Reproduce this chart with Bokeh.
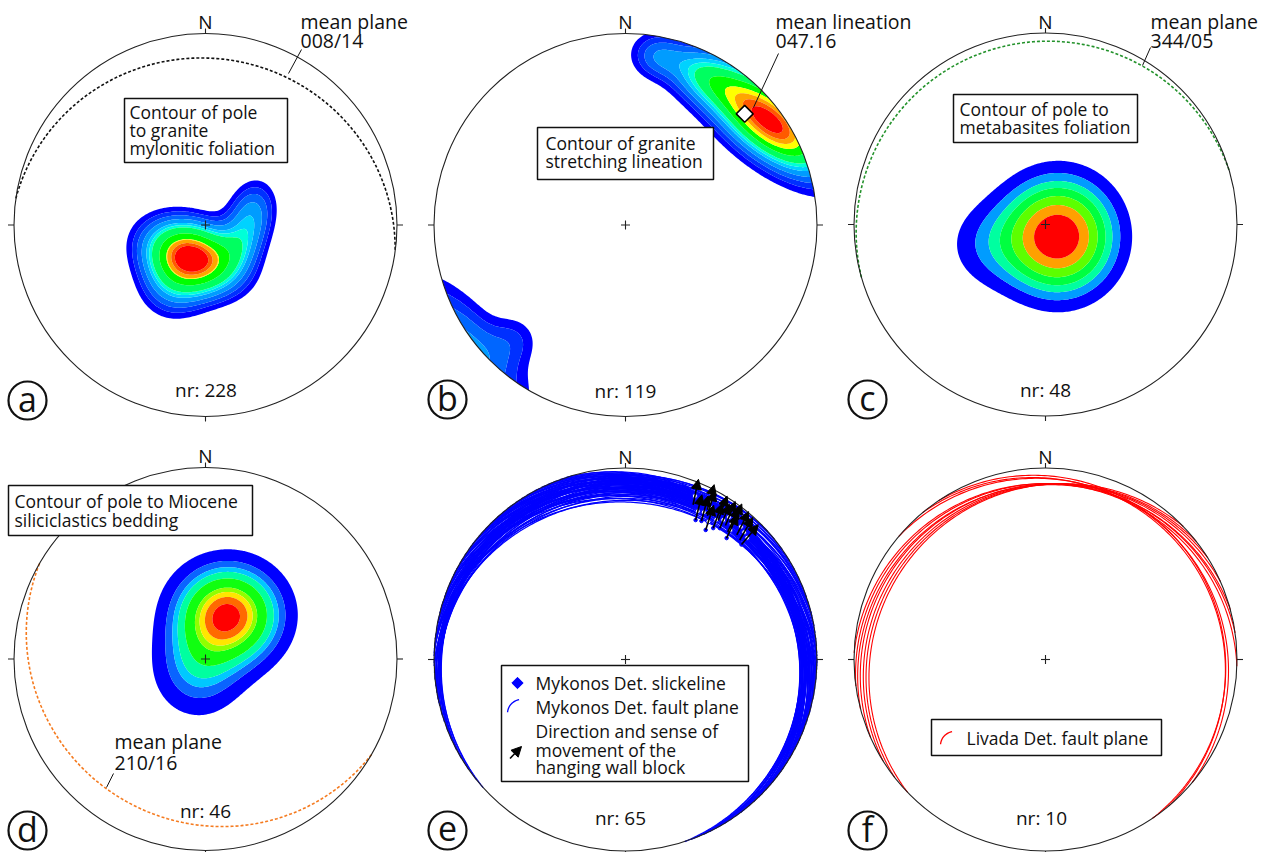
import numpy as np
from bokeh.plotting import figure
from bokeh.models import Range1d, Arrow, NormalHead, ColumnDataSource
from bokeh.core.properties import value
from bokeh.embed import file_html
from bokeh.resources import INLINE

# ---------------- data ----------------
panel_letters = ["a", "b", "c", "d", "e", "f"]
panel_counts = ["nr: 228", "nr: 119", "nr: 48", "nr: 46", "nr: 65", "nr: 10"]

mean_plane_a = [8, 14]        # dip direction / dip
mean_lineation_b = [47, 16]   # trend / plunge
mean_plane_c = [344, 5]
mean_plane_d = [210, 16]

# density maxima: trend, radial position in the net (0 centre, 1 primitive),
# spread along / across long axis (fraction of net radius), azimuth of long axis, weight
dens_a_trend = [202, 76, 120, 208]
dens_a_rpos = [0.178, 0.248, 0.212, 0.36]
dens_a_long = [0.165, 0.12, 0.10, 0.12]
dens_a_short = [0.115, 0.085, 0.08, 0.12]
dens_a_axis = [110, 15, 30, 0]
dens_a_weight = [1.0, 0.3, 0.18, 0.25]
dens_a_levels = [0.103, 0.154, 0.21, 0.278, 0.358, 0.411, 0.467, 0.627, 0.783, 0.8, 0.882, 0.946, 9]

dens_b_trend = [54, 27, 10, 233, 224]
dens_b_rpos = [0.925, 0.871, 0.896, 1.044, 0.833]
dens_b_long = [0.25, 0.15, 0.09, 0.29, 0.09]
dens_b_short = [0.115, 0.09, 0.08, 0.12, 0.09]
dens_b_axis = [129, 120, 100, 140, 0]
dens_b_weight = [1.0, 0.3, 0.2, 0.3, 0.12]
dens_b_levels = [0.085, 0.14, 0.2, 0.27, 0.35, 0.41, 0.47, 0.6, 0.72, 0.8, 0.87, 0.94, 9]

dens_c_trend = [133, 251]
dens_c_rpos = [0.092, 0.332]
dens_c_long = [0.195, 0.16]
dens_c_short = [0.2, 0.16]
dens_c_axis = [90, 90]
dens_c_weight = [1.0, 0.18]
dens_c_levels = [0.142, 0.253, 0.351, 0.45, 0.575, 0.717, 0.858, 9]

dens_d_trend = [27, 215]
dens_d_rpos = [0.257, 0.07]
dens_d_long = [0.172, 0.16]
dens_d_short = [0.162, 0.15]
dens_d_axis = [90, 0]
dens_d_weight = [1.0, 0.3]
dens_d_levels = [0.105, 0.217, 0.303, 0.379, 0.498, 0.68, 0.763, 0.852, 0.955, 9]

# Mykonos detachment fault planes (dip direction, dip)
e_dipdir = [318, 321, 325, 329, 332, 335, 338, 341, 343, 346, 348, 350, 352, 354, 356, 358,
            359, 1, 3, 4, 6, 7, 9, 11, 12, 14, 15, 17, 19, 20, 22, 23, 25, 27, 28, 30,
            31, 33, 35, 36, 38, 40, 41, 43, 45, 46, 48, 50, 52, 53, 55, 57, 59, 61, 62,
            64, 66, 68, 70, 72, 347, 2, 16, 26, 37]
e_dip = [6, 7, 5, 8, 7, 9, 10, 8, 12, 11, 14, 9, 13, 16, 12, 15,
         18, 11, 14, 17, 13, 19, 12, 15, 10, 16, 13, 18, 11, 14, 17, 12, 15, 10, 13, 16,
         11, 14, 9, 12, 15, 10, 13, 11, 9, 12, 10, 13, 8, 11, 9, 12, 8, 10, 11,
         9, 8, 10, 7, 9, 7, 8, 9, 8, 7]
# slickenlines (trend, plunge) and movement direction of hanging wall (azimuth)
e_slick_trend = [23, 28, 29, 33, 35, 36, 38, 38, 41, 43, 26, 28, 33, 45, 39, 31]
e_slick_plunge = [8, 14, 10, 14, 12, 9, 11, 8, 9, 10, 15, 7, 9, 11, 14, 17]
e_move_az = [12, 15, 16, 20, 22, 22, 25, 24, 27, 30, 14, 15, 20, 40, 25, 18]

# Livada detachment fault planes (dip direction, dip)
f_dipdir = [316, 322, 328, 336, 345, 352, 2, 40, 50, 56]
f_dip = [13, 12, 11, 10, 10, 9, 9, 8, 9, 8]

# ---------------- styles / layout ----------------
PAL_12 = ["#0000ff", "#0030ff", "#0066ff", "#009cff", "#00d2ff", "#00ffd8",
          "#00ff60", "#00ff00", "#ffff00", "#ffa500", "#ff5a00", "#ff0000"]
PAL_C = ["#0000ff", "#009cff", "#00ffa0", "#00ff40", "#5cff00", "#ffa000", "#ff0000"]
PAL_D = ["#0000ff", "#0a64ff", "#00c8ff", "#00ffa0", "#10ff10", "#90ff00", "#ffe600", "#ff6a00", "#ff0000"]

R = 191.5
CX = [205, 625, 1045, 205, 625, 1045]
CY = [224.5, 224.5, 224, 658.5, 659, 659]
FONT = value("Open Sans")
RIM = "#222222"
INK = "#111111"

p = figure(width=1265, height=852, x_range=Range1d(0, 1265), y_range=Range1d(852, 0),
           output_backend="svg", toolbar_location=None, min_border=0,
           x_axis_location=None, y_axis_location=None)
p.grid.visible = False
p.outline_line_color = None
p.background_fill_color = "white"
p.border_fill_color = "white"


def proj(trend, plunge):
    t = np.radians(np.asarray(trend, float))
    pl = np.radians(np.asarray(plunge, float))
    f = 1.0 / np.sqrt(1.0 + np.sin(pl))
    return np.cos(pl) * np.sin(t) * f, np.cos(pl) * np.cos(t) * f


def great_circle(dipdir, dip):
    D = np.radians(dipdir)
    d = np.radians(dip)
    phi = np.linspace(0, np.pi, 181)
    s = np.array([np.sin(D - np.pi / 2), np.cos(D - np.pi / 2), 0.0])
    dv = np.array([np.cos(d) * np.sin(D), np.cos(d) * np.cos(D), np.sin(d)])
    v = np.outer(np.cos(phi), s) + np.outer(np.sin(phi), dv)
    f = 1.0 / np.sqrt(1.0 + v[:, 2])
    return v[:, 0] * f, v[:, 1] * f


def scr(i, e, n):
    return CX[i] + R * np.asarray(e), CY[i] - R * np.asarray(n)


def density(i, trend, rpos, slong, sshort, axis, weight):
    g = np.linspace(-1.03, 1.03, 240)
    ue, un = np.meshgrid(g, g)
    z = np.zeros_like(ue)
    for t, r, sl, ss, ax, w in zip(trend, rpos, slong, sshort, axis, weight):
        tr = np.radians(t)
        ar = np.radians(ax)
        de = ue - r * np.sin(tr)
        dn = un - r * np.cos(tr)
        along = de * np.sin(ar) + dn * np.cos(ar)
        across = de * np.cos(ar) - dn * np.sin(ar)
        z += w * np.exp(-0.5 * ((along / sl) ** 2 + (across / ss) ** 2))
    z[ue ** 2 + un ** 2 > 1.03 ** 2] = 0.0
    X, Y = scr(i, ue, un)
    return X, Y, z


dens = [
    (0, dens_a_trend, dens_a_rpos, dens_a_long, dens_a_short, dens_a_axis, dens_a_weight, dens_a_levels, PAL_12),
    (1, dens_b_trend, dens_b_rpos, dens_b_long, dens_b_short, dens_b_axis, dens_b_weight, dens_b_levels, PAL_12),
    (2, dens_c_trend, dens_c_rpos, dens_c_long, dens_c_short, dens_c_axis, dens_c_weight, dens_c_levels, PAL_C),
    (3, dens_d_trend, dens_d_rpos, dens_d_long, dens_d_short, dens_d_axis, dens_d_weight, dens_d_levels, PAL_D),
]
for i, tr, rp, sl, ss, ax, w, lev, pal in dens:
    X, Y, Z = density(i, tr, rp, sl, ss, ax, w)
    p.contour(X, Y, Z, levels=lev, fill_color=pal, line_color=None)

# white mask outside the primitive circles
p.annulus(x=CX, y=CY, inner_radius=R, outer_radius=R + 24, fill_color="white", line_color=None)

# great circles of panels e and f
xs, ys = [], []
for D, d in zip(e_dipdir, e_dip):
    e, n = great_circle(D, d)
    x, y = scr(4, e, n)
    xs.append(x.tolist()); ys.append(y.tolist())
p.multi_line(xs, ys, line_color="#0000ff", line_width=1.25)
xs, ys = [], []
for D, d in zip(f_dipdir, f_dip):
    e, n = great_circle(D, d)
    x, y = scr(5, e, n)
    xs.append(x.tolist()); ys.append(y.tolist())
p.multi_line(xs, ys, line_color="#ff0000", line_width=1.1)

# mean planes (dashed)
for i, (D, d), col in [(0, mean_plane_a, "#111111"), (2, mean_plane_c, "#23922b"), (3, mean_plane_d, "#f57a1e")]:
    e, n = great_circle(D, d)
    x, y = scr(i, e, n)
    p.line(x, y, line_color=col, line_width=1.6, line_dash="3 2")

# primitive circles, ticks, centre crosses
p.circle(x=CX, y=CY, radius=R, fill_color=None, line_color=RIM, line_width=1.1)
tx0, ty0, tx1, ty1 = [], [], [], []
for cx, cy in zip(CX, CY):
    for a0, b0, a1, b1 in [(cx, cy - R, cx, cy - R - 5), (cx, cy + R, cx, cy + R + 5),
                           (cx + R, cy, cx + R + 6, cy), (cx - R, cy, cx - R - 6, cy),
                           (cx - 4.5, cy, cx + 4.5, cy), (cx, cy - 4.5, cx, cy + 4.5)]:
        tx0.append(a0); ty0.append(b0); tx1.append(a1); ty1.append(b1)
p.segment(tx0, ty0, tx1, ty1, line_color=RIM, line_width=1.1)

# N labels, counts, panel letters
p.text(x=CX, y=[cy - R - 11.5 for cy in CY], text=["N"] * 6, text_font=FONT, text_font_size="19px",
       text_align="center", text_baseline="middle", text_color=INK)
p.text(x=[205.5, 625, 1045, 205, 620, 1041], y=[389, 390, 389, 810, 817, 817], text=panel_counts,
       text_font=FONT, text_font_size="19px", text_align="center", text_baseline="middle", text_color=INK)
LX = [27, 447, 867, 27, 447, 867]
LY = [400, 399, 399, 830, 830, 830]
p.circle(x=LX, y=LY, radius=19, fill_color=None, line_color=INK, line_width=2.2)
p.text(x=LX, y=[v - 2 for v in LY], text=panel_letters, text_font=FONT, text_font_size="34px",
       text_align="center", text_baseline="middle", text_color=INK)

# mean lineation marker (panel b)
e, n = proj(mean_lineation_b[0], mean_lineation_b[1])
mx, my = scr(1, e, n)
p.scatter([float(mx)], [float(my)], marker="square", angle=np.pi / 4, size=12,
          fill_color="white", line_color="black", line_width=1.5)

# leader lines
p.segment([288, 753, 1142, 106], [73, 107, 65, 787], [301, 778, 1150, 113], [49, 53, 47, 773],
          line_color=INK, line_width=1)

# mean plane / lineation labels
p.text(x=[300, 300, 775, 775, 1150, 1150, 114, 114], y=[21, 40, 21, 40, 21, 40, 741, 761.5],
       text=["mean plane", "008/14", "mean lineation", "047.16", "mean plane", "344/05", "mean plane", "210/16"],
       text_font=FONT, text_font_size="19.5px", text_align="left", text_baseline="middle", text_color=INK)

# label boxes
bl = [124, 537, 953, 8, 501, 931]
br = [287, 713, 1137, 252, 748, 1161]
bt = [98, 127, 94, 485, 665, 719]
bb = [162, 179, 142, 535, 781, 755]
p.quad(left=bl, right=br, top=bt, bottom=bb, fill_color="white", line_color=INK, line_width=1.5)
box_tx = [129, 129, 129, 545, 545, 959, 959, 14, 14]
box_ty = [111, 129, 147, 142.5, 160.5, 108, 126, 500.5, 519]
box_txt = ["Contour of pole", "to granite", "mylonitic foliation",
           "Contour of granite", "stretching lineation",
           "Contour of pole to", "metabasites foliation",
           "Contour of pole to Miocene", "siliciclastics bedding"]
p.text(x=box_tx, y=box_ty, text=box_txt, text_font=FONT, text_font_size="17.5px",
       text_align="left", text_baseline="middle", text_color=INK)

# legend e / f
p.text(x=[535, 535, 535, 535, 535, 966], y=[682, 706.5, 730, 749, 766, 737],
       text=["Mykonos Det. slickeline", "Mykonos Det. fault plane", "Direction and sense of",
             "movement of the", "hanging wall block", "Livada Det. fault plane"],
       text_font=FONT, text_font_size="17.5px", text_align="left", text_baseline="middle", text_color=INK)
p.scatter([517], [682.5], marker="square", angle=np.pi / 4, size=8, fill_color="#0000ff", line_color="#0000ff")
ang = np.radians(np.linspace(100, 175, 20))
p.line(521 + 14 * np.cos(ang), 713 - 14 * np.sin(ang), line_color="#0000ff", line_width=1.3)
p.line(954 + 14 * np.cos(ang), 745 - 14 * np.sin(ang), line_color="#ff0000", line_width=1.3)

# slickenlines and movement arrows (panel e)
e, n = proj(e_slick_trend, e_slick_plunge)
sx, sy = scr(4, e, n)
mv = np.radians(np.asarray(e_move_az, float))
dx, dy = np.sin(mv), -np.cos(mv)
x0, y0 = sx - 9 * dx, sy - 9 * dy
x1, y1 = sx + 17 * dx, sy + 17 * dy
p.scatter(x0, y0, marker="circle", size=3.5, fill_color="#0000ff", line_color="#0000ff")
p.scatter(sx, sy, marker="circle", size=5, fill_color="white", line_color="#0000ff", line_width=1)
src = ColumnDataSource(dict(x0=list(x0) + [509.5], y0=list(y0) + [758], x1=list(x1) + [521], y1=list(y1) + [746]))
p.add_layout(Arrow(end=NormalHead(size=10, fill_color="black", line_color="black"),
                   x_start="x0", y_start="y0", x_end="x1", y_end="y1", source=src,
                   line_color="black", line_width=1.6))

open("out.html", "w").write(file_html(p, INLINE))
